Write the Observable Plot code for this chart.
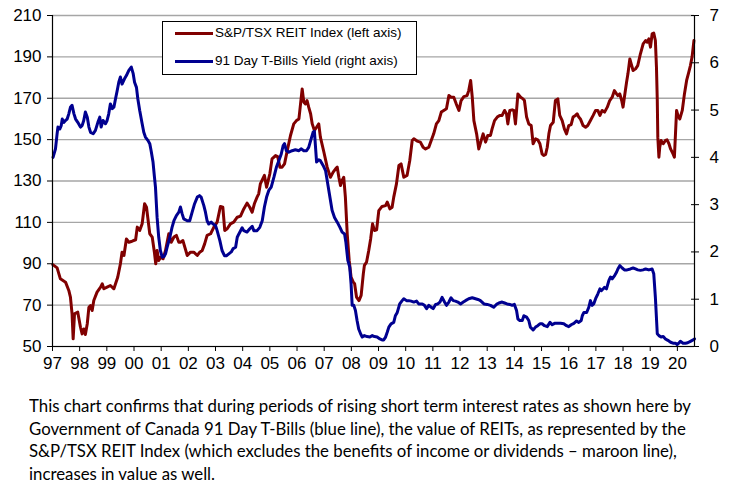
<!DOCTYPE html>
<html><head><meta charset="utf-8">
<script src="https://cdn.jsdelivr.net/npm/d3@7"></script>
<script src="https://cdn.jsdelivr.net/npm/@observablehq/plot@0.6"></script>
<style>
body{margin:0;background:#fff;}
#wrap{position:relative;width:732px;}
#legend{position:absolute;left:162px;top:21px;width:253px;height:52px;border:1px solid #000;background:#fff;font-family:"Liberation Sans",Arial,sans-serif;font-size:13.5px;color:#000;}
.sw{position:absolute;left:12px;width:38px;height:3px;}
.lab{position:absolute;left:52px;white-space:nowrap;line-height:16px;}
#caption{font-family:Lato,"Open Sans",sans-serif;font-size:16.5px;line-height:22.5px;color:#000;margin-left:29px;margin-top:11px;transform-origin:left top;}
#caption span{display:inline-block;white-space:nowrap;}
</style></head>
<body>
<div id="wrap"><div id="chart"></div>
<div id="legend">
<div class="sw" style="top:9.5px;background:#800000"></div><div class="lab" style="top:3px">S&amp;P/TSX REIT Index (left axis)</div>
<div class="sw" style="top:37.5px;background:#000090"></div><div class="lab" style="top:31px">91 Day T-Bills Yield (right axis)</div>
</div></div>
<div id="caption"><span id="l1">This chart confirms that during periods of rising short term interest rates as shown here by</span><br><span>Government of Canada 91 Day T-Bills (blue line), the value of REITs, as represented by the</span><br><span>S&amp;P/TSX REIT Index (which excludes the benefits of income or dividends – maroon line),</span><br><span>increases in value as well.</span></div>
<script>
const reitYear = [1997.01,1997.17,1997.29,1997.48,1997.60,1997.66,1997.72,1997.76,1997.81,1997.88,1997.93,1998.03,1998.09,1998.15,1998.21,1998.28,1998.34,1998.40,1998.46,1998.52,1998.64,1998.77,1998.83,1998.89,1999.01,1999.13,1999.26,1999.32,1999.40,1999.50,1999.56,1999.63,1999.72,1999.81,1999.93,2000.06,2000.12,2000.21,2000.30,2000.39,2000.46,2000.52,2000.58,2000.67,2000.75,2000.80,2000.85,2000.91,2000.98,2001.07,2001.16,2001.28,2001.37,2001.47,2001.56,2001.65,2001.71,2001.80,2001.87,2001.96,2002.08,2002.20,2002.33,2002.42,2002.51,2002.60,2002.69,2002.82,2002.94,2003.06,2003.18,2003.27,2003.34,2003.43,2003.55,2003.67,2003.80,2003.92,2004.04,2004.16,2004.26,2004.35,2004.43,2004.53,2004.59,2004.65,2004.80,2004.88,2005.00,2005.08,2005.21,2005.29,2005.37,2005.45,2005.54,2005.64,2005.76,2005.88,2005.98,2006.07,2006.13,2006.19,2006.25,2006.31,2006.37,2006.43,2006.50,2006.56,2006.64,2006.72,2006.80,2006.86,2006.99,2007.11,2007.23,2007.33,2007.42,2007.48,2007.54,2007.60,2007.66,2007.72,2007.78,2007.85,2007.92,2007.99,2008.07,2008.12,2008.19,2008.28,2008.36,2008.44,2008.48,2008.56,2008.64,2008.71,2008.78,2008.85,2008.93,2009.01,2009.13,2009.26,2009.32,2009.42,2009.50,2009.56,2009.66,2009.75,2009.83,2009.93,2010.05,2010.15,2010.24,2010.30,2010.42,2010.54,2010.64,2010.73,2010.85,2010.94,2011.03,2011.13,2011.22,2011.31,2011.40,2011.50,2011.59,2011.67,2011.77,2011.86,2011.96,2012.04,2012.14,2012.26,2012.32,2012.39,2012.45,2012.51,2012.61,2012.69,2012.85,2012.94,2013.02,2013.12,2013.18,2013.27,2013.37,2013.46,2013.55,2013.64,2013.71,2013.76,2013.83,2013.92,2013.98,2014.04,2014.13,2014.23,2014.32,2014.37,2014.45,2014.53,2014.62,2014.69,2014.78,2014.86,2014.94,2015.02,2015.08,2015.15,2015.21,2015.27,2015.33,2015.43,2015.51,2015.60,2015.67,2015.76,2015.84,2015.92,2016.00,2016.09,2016.16,2016.25,2016.31,2016.37,2016.43,2016.53,2016.62,2016.70,2016.80,2016.90,2016.99,2017.07,2017.15,2017.23,2017.32,2017.42,2017.51,2017.60,2017.68,2017.76,2017.81,2017.88,2017.95,2018.00,2018.05,2018.13,2018.18,2018.25,2018.30,2018.37,2018.46,2018.54,2018.64,2018.74,2018.83,2018.89,2018.95,2019.01,2019.07,2019.13,2019.19,2019.23,2019.26,2019.28,2019.32,2019.35,2019.40,2019.48,2019.56,2019.62,2019.69,2019.75,2019.84,2019.89,2019.93,2019.97,2020.02,2020.09,2020.18,2020.26,2020.34,2020.42,2020.48,2020.54,2020.61];
const reitValue = [89.6,88.0,82.7,81.1,77.1,73.9,65.8,53.7,65.8,66.3,66.6,59.3,56.1,58.5,55.8,61.0,69.0,69.8,67.4,72.2,76.3,78.7,80.3,77.9,78.7,79.5,77.9,80.3,83.5,90.0,95.6,94.0,102.0,100.4,100.9,101.6,107.7,106.1,109.3,119.0,117.3,110.9,104.5,102.9,95.6,90.0,96.4,91.6,93.2,92.4,96.4,104.5,100.4,102.9,103.7,100.4,100.4,101.2,98.0,94.0,95.6,95.6,94.0,95.6,96.4,99.6,103.7,104.5,107.7,110.1,117.7,117.3,106.1,106.9,109.3,110.1,112.5,113.0,116.5,119.3,117.3,114.9,119.0,122.2,123.8,128.6,132.7,127.0,133.5,140.7,142.3,141.8,136.7,136.7,138.3,144.7,152.0,157.6,159.2,160.0,167.3,174.5,168.1,167.3,168.9,165.7,162.5,157.6,154.4,156.0,157.6,151.2,143.9,136.7,131.8,134.3,135.9,136.7,131.8,127.8,130.3,131.8,122.2,104.0,91.6,83.5,81.1,80.3,73.9,72.2,74.7,85.1,89.2,90.8,96.4,102.0,109.3,106.1,106.4,115.7,117.7,118.1,119.8,116.5,117.3,122.2,128.6,137.5,138.3,131.8,132.7,139.9,149.6,150.4,149.3,148.8,146.3,145.5,146.3,149.6,152.8,157.6,159.2,163.3,164.1,164.9,171.3,170.5,170.5,167.3,164.1,168.9,170.8,171.3,173.7,178.6,170.5,159.2,152.8,145.5,152.8,148.8,152.0,152.0,155.2,159.2,160.9,161.7,161.7,164.1,162.5,157.6,164.1,164.4,164.1,157.6,172.1,170.5,169.7,168.9,160.9,157.6,156.8,148.0,150.4,149.9,148.0,143.1,142.3,142.8,146.3,152.8,156.8,158.4,168.9,169.7,161.7,159.2,155.2,152.8,156.8,157.3,160.9,161.7,162.5,160.9,160.0,156.8,156.0,156.8,159.2,161.7,164.1,164.1,161.7,164.1,163.3,165.7,168.9,170.5,173.7,172.1,171.3,172.1,168.9,165.7,170.5,177.8,181.8,189.0,186.6,183.4,184.2,185.8,191.5,196.3,197.9,197.1,198.7,194.7,201.1,201.5,197.9,185.0,168.9,151.2,141.5,146.3,149.6,148.0,149.6,149.9,148.0,145.5,143.1,141.5,152.8,164.1,161.7,160.0,164.1,172.1,178.6,182.6,185.8,189.9,197.9];
const billYear = [1997.02,1997.11,1997.17,1997.20,1997.27,1997.32,1997.36,1997.42,1997.48,1997.54,1997.60,1997.66,1997.72,1997.79,1997.85,1997.93,1998.03,1998.09,1998.15,1998.21,1998.28,1998.34,1998.40,1998.50,1998.58,1998.67,1998.74,1998.79,1998.86,1998.95,1999.01,1999.07,1999.13,1999.20,1999.26,1999.32,1999.38,1999.44,1999.50,1999.56,1999.65,1999.72,1999.81,1999.90,1999.97,2000.02,2000.09,2000.14,2000.21,2000.30,2000.36,2000.42,2000.51,2000.58,2000.63,2000.70,2000.75,2000.79,2000.85,2000.91,2000.97,2001.04,2001.10,2001.16,2001.22,2001.32,2001.40,2001.47,2001.56,2001.65,2001.71,2001.77,2001.83,2001.96,2002.05,2002.14,2002.23,2002.33,2002.41,2002.47,2002.57,2002.63,2002.69,2002.75,2002.84,2002.91,2003.00,2003.06,2003.16,2003.24,2003.33,2003.40,2003.49,2003.58,2003.65,2003.74,2003.80,2003.86,2003.98,2004.04,2004.16,2004.26,2004.35,2004.41,2004.53,2004.63,2004.72,2004.80,2004.88,2004.96,2005.05,2005.15,2005.24,2005.33,2005.42,2005.49,2005.54,2005.61,2005.70,2005.82,2005.94,2006.07,2006.15,2006.25,2006.35,2006.43,2006.52,2006.59,2006.64,2006.72,2006.80,2006.86,2006.96,2007.05,2007.13,2007.21,2007.29,2007.38,2007.48,2007.58,2007.66,2007.75,2007.80,2007.87,2007.94,2007.99,2008.03,2008.09,2008.15,2008.21,2008.27,2008.34,2008.40,2008.48,2008.58,2008.68,2008.77,2008.85,2008.95,2009.05,2009.13,2009.19,2009.26,2009.32,2009.38,2009.46,2009.56,2009.62,2009.69,2009.78,2009.87,2009.93,2010.03,2010.11,2010.20,2010.30,2010.40,2010.48,2010.61,2010.69,2010.77,2010.85,2010.94,2011.01,2011.10,2011.18,2011.26,2011.34,2011.43,2011.50,2011.59,2011.67,2011.75,2011.83,2011.92,2012.02,2012.12,2012.20,2012.32,2012.45,2012.57,2012.69,2012.75,2012.88,2013.00,2013.12,2013.24,2013.34,2013.43,2013.55,2013.64,2013.73,2013.83,2013.92,2014.00,2014.08,2014.13,2014.20,2014.29,2014.35,2014.45,2014.53,2014.59,2014.69,2014.78,2014.86,2014.94,2015.02,2015.11,2015.21,2015.31,2015.39,2015.48,2015.58,2015.70,2015.82,2015.92,2016.00,2016.09,2016.19,2016.29,2016.37,2016.46,2016.50,2016.56,2016.66,2016.74,2016.80,2016.86,2016.92,2016.99,2017.07,2017.15,2017.20,2017.27,2017.32,2017.39,2017.48,2017.54,2017.60,2017.69,2017.76,2017.81,2017.88,2017.97,2018.05,2018.15,2018.27,2018.37,2018.46,2018.54,2018.64,2018.74,2018.83,2018.95,2019.07,2019.13,2019.19,2019.26,2019.32,2019.40,2019.48,2019.56,2019.65,2019.75,2019.84,2019.93,2019.99,2020.05,2020.11,2020.21,2020.30,2020.38,2020.48,2020.58,2020.63];
const billValue = [4.00,4.18,4.50,4.64,4.60,4.67,4.81,4.74,4.78,4.81,4.92,5.06,5.10,4.92,4.81,4.74,4.64,4.67,4.78,4.96,4.85,4.64,4.53,4.50,4.57,4.74,4.85,4.64,4.78,4.71,4.78,4.92,5.13,5.03,5.06,5.24,5.41,5.59,5.70,5.55,5.66,5.73,5.84,5.91,5.77,5.59,5.48,5.24,4.99,4.71,4.53,4.43,4.36,4.29,4.14,3.90,3.60,3.37,2.73,2.31,2.03,1.89,1.90,1.96,2.10,2.31,2.52,2.66,2.77,2.84,2.95,2.81,2.70,2.66,2.66,2.84,3.02,3.16,3.19,3.16,2.98,2.84,2.66,2.59,2.63,2.59,2.56,2.45,2.24,2.03,1.92,1.92,1.96,2.00,2.07,2.10,2.31,2.38,2.51,2.45,2.42,2.49,2.54,2.45,2.45,2.52,2.66,2.95,3.16,3.30,3.37,3.58,3.79,3.93,4.07,4.25,4.29,4.14,4.11,4.14,4.16,4.14,4.18,4.14,4.14,4.21,4.39,4.53,4.55,3.90,3.95,3.93,3.83,3.72,3.44,3.16,2.88,2.73,2.63,2.52,2.42,2.38,2.20,1.82,1.68,1.32,0.87,0.87,0.76,0.55,0.37,0.27,0.20,0.23,0.21,0.20,0.23,0.21,0.20,0.16,0.14,0.14,0.20,0.30,0.41,0.48,0.51,0.65,0.72,0.90,0.97,1.01,0.97,0.97,0.96,0.94,0.96,0.90,0.90,0.87,0.80,0.87,0.83,0.80,0.89,0.90,0.94,1.04,0.94,0.87,0.94,1.03,0.97,0.96,0.94,0.90,0.94,0.97,1.01,1.03,1.01,0.99,0.97,0.90,0.89,0.87,0.83,0.89,0.92,0.94,0.92,0.90,0.89,0.87,0.89,0.76,0.58,0.55,0.55,0.65,0.62,0.55,0.41,0.35,0.41,0.44,0.48,0.48,0.44,0.42,0.51,0.46,0.49,0.49,0.49,0.48,0.44,0.42,0.46,0.49,0.54,0.51,0.55,0.65,0.72,0.72,0.83,0.97,0.87,0.90,1.01,1.11,1.22,1.18,1.22,1.25,1.22,1.40,1.47,1.43,1.50,1.57,1.64,1.71,1.66,1.62,1.62,1.64,1.66,1.64,1.62,1.61,1.62,1.64,1.62,1.64,1.54,1.04,0.27,0.23,0.20,0.21,0.16,0.13,0.09,0.07,0.07,0.04,0.07,0.11,0.07,0.07,0.08,0.11,0.14,0.16];
const yearTicks = d3.range(1997, 2021);
const leftTicks = d3.range(50, 211, 20);
const rightTicks = d3.range(0, 8);
const xStart = 1997, xEnd = 2020.63;
const toLeft = v => 50 + v * 160 / 7;

const reit = reitYear.map((x, i) => ({x, y: reitValue[i]}));
const bill = billYear.map((x, i) => ({x, y: toLeft(billValue[i])}));

const chart = Plot.plot({
  width: 732, height: 384,
  marginLeft: 52, marginRight: 38, marginTop: 15, marginBottom: 38,
  style: {fontFamily: "'Liberation Sans', Arial, sans-serif", fontSize: "17px", color: "#000", background: "#fff", overflow: "visible"},
  x: {domain: [xStart, xEnd], axis: null, label: null},
  y: {domain: [50, 210], axis: null, label: null},
  marks: [
    Plot.gridY(leftTicks, {stroke: "#a6a6a6", strokeOpacity: 1, strokeWidth: 1.3}),
    Plot.line(reit, {x: "x", y: "y", stroke: "#800000", strokeWidth: 3, strokeLinejoin: "round"}),
    Plot.line(bill, {x: "x", y: "y", stroke: "#000090", strokeWidth: 3, strokeLinejoin: "round"}),
    Plot.ruleX([xStart], {stroke: "#000", strokeWidth: 1.2}),
    Plot.ruleX([xEnd], {stroke: "#000", strokeWidth: 1.2}),
    Plot.ruleY([50], {stroke: "#000", strokeWidth: 1.2}),
    Plot.axisX(yearTicks, {tickSize: 5, tickPadding: 5, label: null, tickFormat: d => String(d % 100).padStart(2, "0")}),
    Plot.axisY(leftTicks, {anchor: "left", tickSize: 5, tickPadding: 6, label: null}),
    Plot.axisY(rightTicks.map(toLeft), {anchor: "right", tickSize: 8, insetRight: 4, tickPadding: 11, label: null, tickFormat: d => String(Math.round((d - 50) * 7 / 160))})
  ]
});
document.getElementById("chart").appendChild(chart);

const cap = document.getElementById("caption");
const w1 = document.getElementById("l1").getBoundingClientRect().width;
cap.style.transform = `scaleX(${662 / w1})`;
</script>
</body></html>
